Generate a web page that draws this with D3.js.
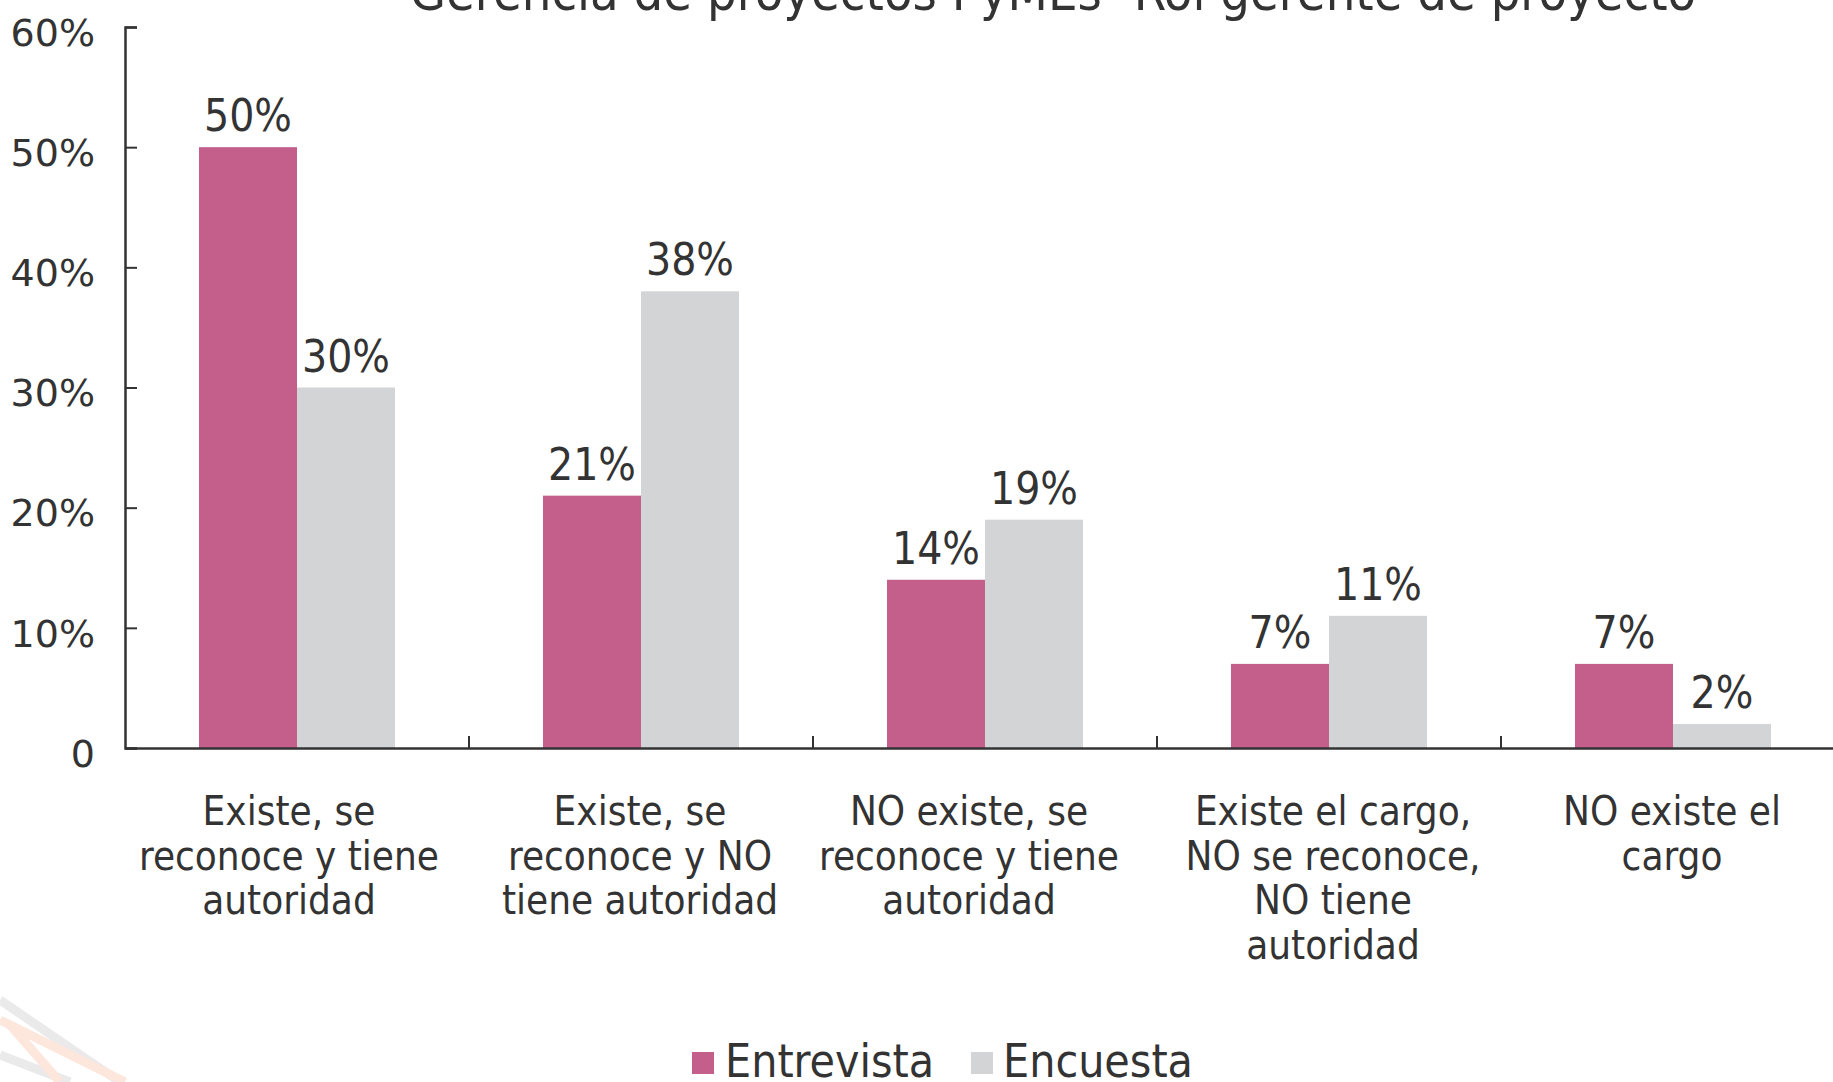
<!DOCTYPE html>
<html><head><meta charset="utf-8">
<script src="https://cdn.jsdelivr.net/npm/d3@7"></script>
<style>
html,body{margin:0;padding:0;background:#fff;}
svg{display:block;}
</style></head>
<body>
<svg id="chart" width="1833" height="1082"></svg>
<script>
const title = "Gerencia de proyectos PyMEs- Rol gerente de proyecto";
const categories = [
  ["Existe, se","reconoce y tiene","autoridad"],
  ["Existe, se","reconoce y NO","tiene autoridad"],
  ["NO existe, se","reconoce y tiene","autoridad"],
  ["Existe el cargo,","NO se reconoce,","NO tiene","autoridad"],
  ["NO existe el","cargo"]
];
const seriesNames = ["Entrevista","Encuesta"];
const entrevista = [50,21,14,7,7];
const encuesta = [30,38,19,11,2];
const yTicks = [0,10,20,30,40,50,60];
const colors = ["#C45E8B","#D3D4D6"];

const svg = d3.select("#chart");
const narrow = "'Liberation Sans Narrow','DejaVu Sans Condensed','Arial Narrow',sans-serif";
const wide = "'DejaVu Sans',Verdana,sans-serif";
const textColor = "#333";

// faint watermark in bottom-left
const wm = svg.append("g").attr("fill","none").attr("stroke-width",9).attr("stroke-linecap","butt");
wm.append("path").attr("d","M0,1000 L120,1082").attr("stroke","#EAEAEA");
wm.append("path").attr("d","M0,1055 L70,1082").attr("stroke","#EAEAEA");
wm.append("path").attr("d","M0,1020 L125,1082").attr("stroke","#FDE6DC");
wm.append("path").attr("d","M10,1025 L60,1082").attr("stroke","#FDE6DC");

const x0 = 125, yBase = 748, yTop = 27;
const keys = d3.range(categories.length);
const x = d3.scaleBand().domain(keys).range([x0, x0 + 344*5]).paddingInner(0).paddingOuter(0);
const y = d3.scaleLinear().domain([0,60]).range([yBase, yTop]);
const groupW = 196;
const xs = d3.scaleBand().domain([0,1]).range([0, groupW]);
const labelShift = [-8, -1, -16, 4, -1];

// title
svg.append("text").attr("x",1053).attr("y",10).attr("text-anchor","middle")
  .attr("font-family",narrow).attr("font-size",52).attr("fill",textColor).text(title);

// bars
const data = [entrevista, encuesta];
const g = svg.append("g");
keys.forEach(i => {
  const gx = x(i) + (x.bandwidth() - groupW)/2;
  data.forEach((arr, s) => {
    g.append("rect")
      .attr("x", gx + xs(s)).attr("y", y(arr[i]))
      .attr("width", xs.bandwidth()).attr("height", yBase - y(arr[i]))
      .attr("fill", colors[s]);
    g.append("text")
      .attr("x", gx + xs(s) + xs.bandwidth()/2).attr("y", y(arr[i]) - 16)
      .attr("text-anchor","middle").attr("font-family",narrow).attr("font-size",44)
      .attr("fill",textColor).text(arr[i] + "%");
  });
});

// y axis
const yAxis = d3.axisLeft(y).tickValues(yTicks).tickSize(-12).tickPadding(30)
  .tickFormat(d => d === 0 ? "0" : d + "%");
const ya = svg.append("g").attr("transform",`translate(${x0},0)`).call(yAxis);
ya.select(".domain").attr("stroke",textColor).attr("stroke-width",2.5);
ya.selectAll(".tick line").attr("stroke",textColor).attr("stroke-width",2);
ya.selectAll(".tick text").attr("font-family",wide).attr("font-size",38).attr("fill",textColor)
  .attr("dy","0.48em");

// x axis
const xAxis = d3.axisBottom(x).tickValues([]).tickSizeOuter(0);
const xa = svg.append("g").attr("transform",`translate(0,${yBase})`).call(xAxis);
xa.select(".domain").attr("stroke",textColor).attr("stroke-width",2.5);
keys.slice(1).forEach(i => {
  xa.append("line").attr("x1",x(i)).attr("x2",x(i)).attr("y1",0).attr("y2",-12)
    .attr("stroke",textColor).attr("stroke-width",2);
});

// category labels
keys.forEach(i => {
  const t = svg.append("text").attr("text-anchor","middle")
    .attr("font-family",narrow).attr("font-size",40).attr("fill",textColor);
  categories[i].forEach((line, k) => {
    t.append("tspan").attr("x", x(i) + x.bandwidth()/2 + labelShift[i]).attr("y", 825 + k*44.5).text(line);
  });
});

// legend
const legend = [{x:692, tx:725},{x:971, tx:1003}];
seriesNames.forEach((n, s) => {
  svg.append("rect").attr("x",legend[s].x).attr("y",1052).attr("width",22).attr("height",22).attr("fill",colors[s]);
  svg.append("text").attr("x",legend[s].tx).attr("y",1077).attr("font-family",narrow)
    .attr("font-size",46).attr("fill",textColor).text(n);
});
</script>
</body></html>
